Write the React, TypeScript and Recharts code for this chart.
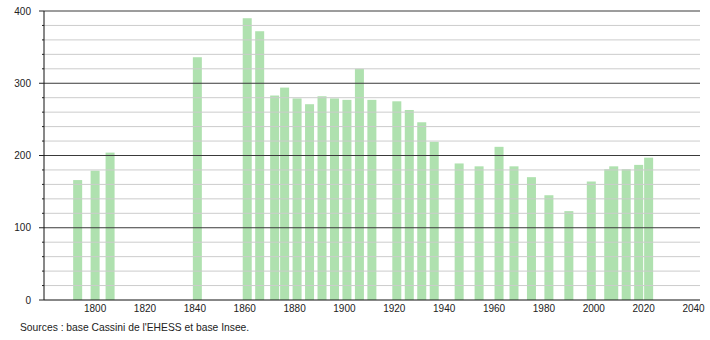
import React from "react";
import { BarChart, Bar, XAxis, YAxis, ReferenceLine } from "recharts";

const years = [1793, 1800, 1806, 1841, 1861, 1866, 1872, 1876, 1881, 1886, 1891, 1896, 1901, 1906, 1911, 1921, 1926, 1931, 1936, 1946, 1954, 1962, 1968, 1975, 1982, 1990, 1999, 2006, 2008, 2013, 2018, 2022];
const population = [166, 179, 204, 336, 390, 372, 283, 294, 279, 271, 282, 279, 277, 320, 277, 275, 263, 246, 219, 189, 185, 212, 185, 170, 145, 123, 164, 181, 185, 181, 187, 197];
const xTicks = [1800, 1820, 1840, 1860, 1880, 1900, 1920, 1940, 1960, 1980, 2000, 2020, 2040];
const yTicks = [0, 20, 40, 60, 80, 100, 120, 140, 160, 180, 200, 220, 240, 260, 280, 300, 320, 340, 360, 380, 400];
const yLabels = [0, 100, 200, 300, 400];
const sourceText = "Sources : base Cassini de l'EHESS et base Insee.";

const data = years.map((y, i) => ({ year: y, pop: population[i] }));

const FONT = "'Liberation Sans', Arial, sans-serif";
const BAR_W = 9;

const BarShape = (props: any) => {
  const { x, y, width, height } = props;
  if (height == null || height <= 0) return null;
  const cx = x + width / 2;
  return <rect x={cx - BAR_W / 2} y={y} width={BAR_W} height={height} fill="#afe1af" />;
};

const YTick = (props: any) => {
  const { x, y, payload } = props;
  const v = payload.value;
  const major = yLabels.includes(v);
  return (
    <g>
      <line x1={x - (major ? 5 : 2)} x2={x} y1={y} y2={y} stroke="#222" strokeWidth={1} />
      {major && (
        <text x={x - 13} y={y + 3.5} textAnchor="end" fontSize={10} fontFamily={FONT} fill="#222">
          {v}
        </text>
      )}
    </g>
  );
};

const XTick = (props: any) => {
  const { x, y, payload } = props;
  return (
    <text x={x} y={y + 11.5} textAnchor="middle" fontSize={10} fontFamily={FONT} fill="#222">
      {payload.value}
    </text>
  );
};

export default function App() {
  return (
    <div style={{ position: "absolute", left: 0, top: 0, width: 710, height: 340, background: "#fff" }}>
      <BarChart width={710} height={340} data={data} margin={{ top: 11, right: 10, left: 0, bottom: 20 }}>
        {yTicks.filter((t) => t > 0).map((t) => (
          <ReferenceLine
            key={t}
            y={t}
            stroke={yLabels.includes(t) ? "#3a3a3a" : "#cccccc"}
            strokeWidth={1}
          />
        ))}
        <XAxis
          dataKey="year"
          type="number"
          domain={[1779.5, 2042.6]}
          allowDataOverflow
          ticks={xTicks}
          interval={0}
          tickLine={false}
          tickSize={0}
          tickMargin={0}
          height={20}
          axisLine={{ stroke: "#111", strokeWidth: 1 }}
          tick={<XTick />}
        />
        <YAxis
          type="number"
          domain={[0, 400]}
          ticks={yTicks}
          interval={0}
          width={44}
          tickLine={false}
          tickSize={0}
          tickMargin={0}
          axisLine={{ stroke: "#111", strokeWidth: 1 }}
          tick={<YTick />}
        />
        <Bar dataKey="pop" isAnimationActive={false} shape={<BarShape />} />
      </BarChart>
      <div
        style={{
          position: "absolute",
          left: 20,
          top: 322,
          fontFamily: FONT,
          fontSize: 10.3,
          color: "#222",
          whiteSpace: "nowrap",
        }}
      >
        {sourceText}
      </div>
    </div>
  );
}
